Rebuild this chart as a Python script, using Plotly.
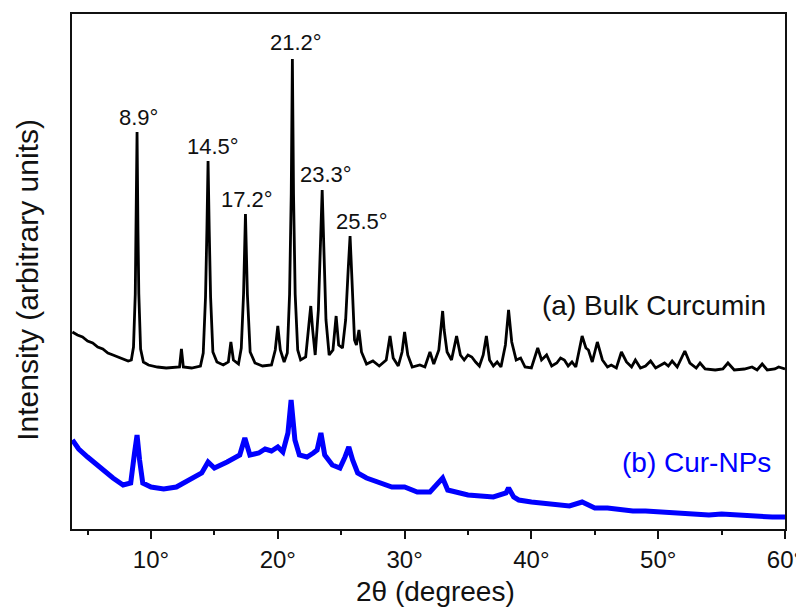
import plotly.graph_objects as go

# ---- Data (2θ in degrees, intensity in arbitrary units) ----
bulk_2theta = [3.8, 4.2, 4.6, 5.0, 5.4, 5.8, 6.2, 6.6, 7.0, 7.4, 7.8, 8.2, 8.45, 8.62, 8.76, 8.83, 8.9, 8.97,
               9.04, 9.18, 9.4, 9.8, 10.5, 11.2, 11.8, 12.25, 12.4, 12.55, 13.2, 13.9, 14.12, 14.3, 14.41,
               14.5, 14.59, 14.7, 14.88, 15.2, 15.7, 16.1, 16.3, 16.5, 16.9, 17.12, 17.3, 17.45, 17.6, 17.82,
               18.2, 18.8, 19.5, 19.8, 20.0, 20.2, 20.5, 20.75, 20.93, 21.06, 21.15, 21.24, 21.37, 21.57,
               21.8, 22.2, 22.45, 22.6, 22.75, 22.95, 23.2, 23.37, 23.5, 23.63, 23.8, 24.05, 24.35, 24.6,
               24.8, 25.1, 25.35, 25.55, 25.7, 25.85, 26.05, 26.2, 26.4, 26.6, 27.0, 27.5, 28.0, 28.55,
               28.85, 29.1, 29.5, 29.8, 30.0, 30.25, 30.6, 31.2, 31.6, 32.0, 32.3, 32.7, 32.88, 33.0, 33.12,
               33.35, 33.7, 34.1, 34.4, 34.7, 35.0, 35.3, 35.6, 35.9, 36.2, 36.45, 36.7, 37.0, 37.3, 37.6,
               37.95, 38.2, 38.45, 38.8, 39.15, 39.5, 40.0, 40.5, 40.8, 41.2, 41.6, 42.0, 42.3, 42.6, 42.9,
               43.2, 43.5, 43.8, 44.0, 44.3, 44.5, 44.8, 45.2, 45.6, 46.0, 46.3, 46.7, 47.1, 47.5, 47.9,
               48.2, 48.6, 49.0, 49.4, 49.8, 50.5, 50.8, 51.1, 51.5, 52.1, 52.5, 53.0, 53.3, 53.7, 54.5,
               55.1, 55.5, 56.0, 56.8, 57.4, 57.8, 58.2, 58.6, 59.2, 59.5, 60.0]
bulk_intensity = [197, 194, 192, 188, 186, 182, 180, 176, 174, 172, 170, 168, 169, 182, 235, 300, 397, 300,
                  235, 180, 167, 164, 162, 161, 162, 162, 180, 162, 161, 163, 176, 232, 300,
                  368, 300, 232, 177, 167, 164, 167, 187, 169, 165, 181, 235, 315, 235, 177,
                  166, 163, 164, 179, 203, 179, 167, 176, 235, 335, 470, 335, 235, 179,
                  169, 172, 204, 223, 199, 174, 219, 282, 339, 282, 209, 174, 179, 213,
                  184, 181, 209, 259, 293, 249, 189, 184, 199, 177, 165, 168, 163, 169,
                  193, 171, 163, 177, 197, 174, 162, 164, 162, 177, 165, 179, 199, 218, 199,
                  177, 169, 193, 174, 169, 174, 172, 167, 163, 174, 193, 169, 163, 167, 162,
                  184, 219, 187, 169, 171, 162, 161, 181, 169, 174, 163, 166, 171, 169, 163,
                  167, 162, 181, 193, 181, 179, 167, 187, 169, 162, 164, 161, 177, 167, 162,
                  169, 161, 163, 168, 161, 166, 163, 168, 162, 178, 166, 161, 166, 160, 159,
                  160, 166, 159, 160, 162, 159, 165, 159, 160, 162, 160]

np_2theta = [3.8, 4.3, 5.0, 6.0, 7.0, 7.8, 8.4, 8.7, 8.9, 9.1, 9.35, 10.0, 11.0, 12.0, 13.0, 14.0, 14.5,
             15.0, 16.0, 17.0, 17.4, 17.8, 18.5, 19.0, 19.5, 20.0, 20.4, 20.8, 21.05, 21.35, 21.7, 22.3,
             22.8, 23.1, 23.4, 23.7, 24.3, 24.9, 25.3, 25.6, 25.9, 26.3, 27.0, 28.0, 29.0, 30.0, 31.0,
             32.0, 32.7, 33.0, 33.4, 34.0, 35.0, 36.0, 37.0, 38.0, 38.2, 38.6, 39.0, 40.0, 41.0, 42.0,
             43.0, 44.0, 44.5, 45.0, 46.0, 47.0, 48.0, 49.0, 50.0, 51.0, 52.0, 53.0, 54.0, 55.0, 56.0,
             57.0, 58.0, 59.0, 60.0]
np_intensity = [89, 80, 72, 61, 51, 44, 46, 76, 94, 69, 46, 42, 40, 42, 49, 56, 67,
                61, 67, 74, 91, 74, 76, 80, 78, 82, 77, 96, 129, 89, 74, 72,
                76, 79, 96, 74, 64, 61, 72, 82, 69, 56, 51, 46, 42, 42, 37,
                37, 46, 51, 39, 37, 34, 33, 32, 36, 41, 32, 29, 27, 26, 24,
                23, 27, 24, 21, 21, 19, 18, 18, 17, 16, 16, 15, 14, 15, 14,
                13, 13, 12, 12]

peak_labels = ["8.9°", "14.5°", "17.2°", "21.2°", "23.3°", "25.5°"]
peak_label_x = [9.05, 14.86, 17.61, 21.42, 23.80, 26.64]
peak_label_y = [412, 383, 330, 487, 355, 308]

series_names = ["(a) Bulk Curcumin", "(b) Cur-NPs"]
series_colors = ["#000000", "#0000FF"]
tick_values = [10, 20, 30, 40, 50, 60]
tick_text = ["10°", "20°", "30°", "40°", "50°", "60°"]
minor_tick_values = [5, 15, 25, 35, 45, 55]

FONT = "Liberation Sans, Arial, sans-serif"
INK = "#111111"

fig = go.Figure()
fig.add_trace(go.Scatter(x=bulk_2theta, y=bulk_intensity, mode="lines",
                         line=dict(color=series_colors[0], width=2.8), name=series_names[0]))
fig.add_trace(go.Scatter(x=np_2theta, y=np_intensity, mode="lines",
                         line=dict(color=series_colors[1], width=5), name=series_names[1]))

for t, x, y in zip(peak_labels, peak_label_x, peak_label_y):
    fig.add_annotation(x=x, y=y, text=t, showarrow=False, xanchor="center", yanchor="middle",
                       font=dict(family=FONT, size=22, color=INK))

fig.add_annotation(x=58.66, y=224, text=series_names[0], showarrow=False, xanchor="right",
                   yanchor="middle", font=dict(family=FONT, size=28, color=INK))
fig.add_annotation(x=59.05, y=67, text=series_names[1], showarrow=False, xanchor="right",
                   yanchor="middle", font=dict(family=FONT, size=28, color=series_colors[1]))

# axis titles as paper annotations for exact placement
fig.add_annotation(xref="paper", yref="paper", x=0.51, y=-0.122, text="2θ (degrees)",
                   showarrow=False, xanchor="center", yanchor="middle",
                   font=dict(family=FONT, size=28, color=INK))
fig.add_annotation(xref="paper", yref="paper", x=-0.062, y=0.4835, text="Intensity (arbitrary units)",
                   showarrow=False, xanchor="center", yanchor="middle", textangle=-90,
                   font=dict(family=FONT, size=30, color=INK))

# the page body adds an 8px margin, so the figure is sized/offset to compensate
fig.update_layout(
    width=796, height=599,
    margin=dict(l=64, r=19, t=6, b=78, autoexpand=False),
    paper_bgcolor="white", plot_bgcolor="white",
    showlegend=False,
    font=dict(family=FONT, color=INK),
)
fig.update_xaxes(
    range=[3.77, 60], tickmode="array", tickvals=tick_values, ticktext=tick_text,
    ticks="outside", ticklen=8, tickwidth=1.5, tickcolor=INK,
    minor=dict(tickmode="array", tickvals=minor_tick_values, ticks="outside", ticklen=4,
               tickwidth=1.5, tickcolor=INK, showgrid=False),
    showline=True, linecolor=INK, linewidth=1.5, mirror=True,
    showgrid=False, zeroline=False, automargin=False,
    tickfont=dict(family=FONT, size=24, color=INK),
)
fig.update_yaxes(
    range=[0, 515], showticklabels=False, ticks="",
    showline=True, linecolor=INK, linewidth=1.5, mirror=True,
    showgrid=False, zeroline=False, automargin=False,
)

fig.write_html("out.html")
